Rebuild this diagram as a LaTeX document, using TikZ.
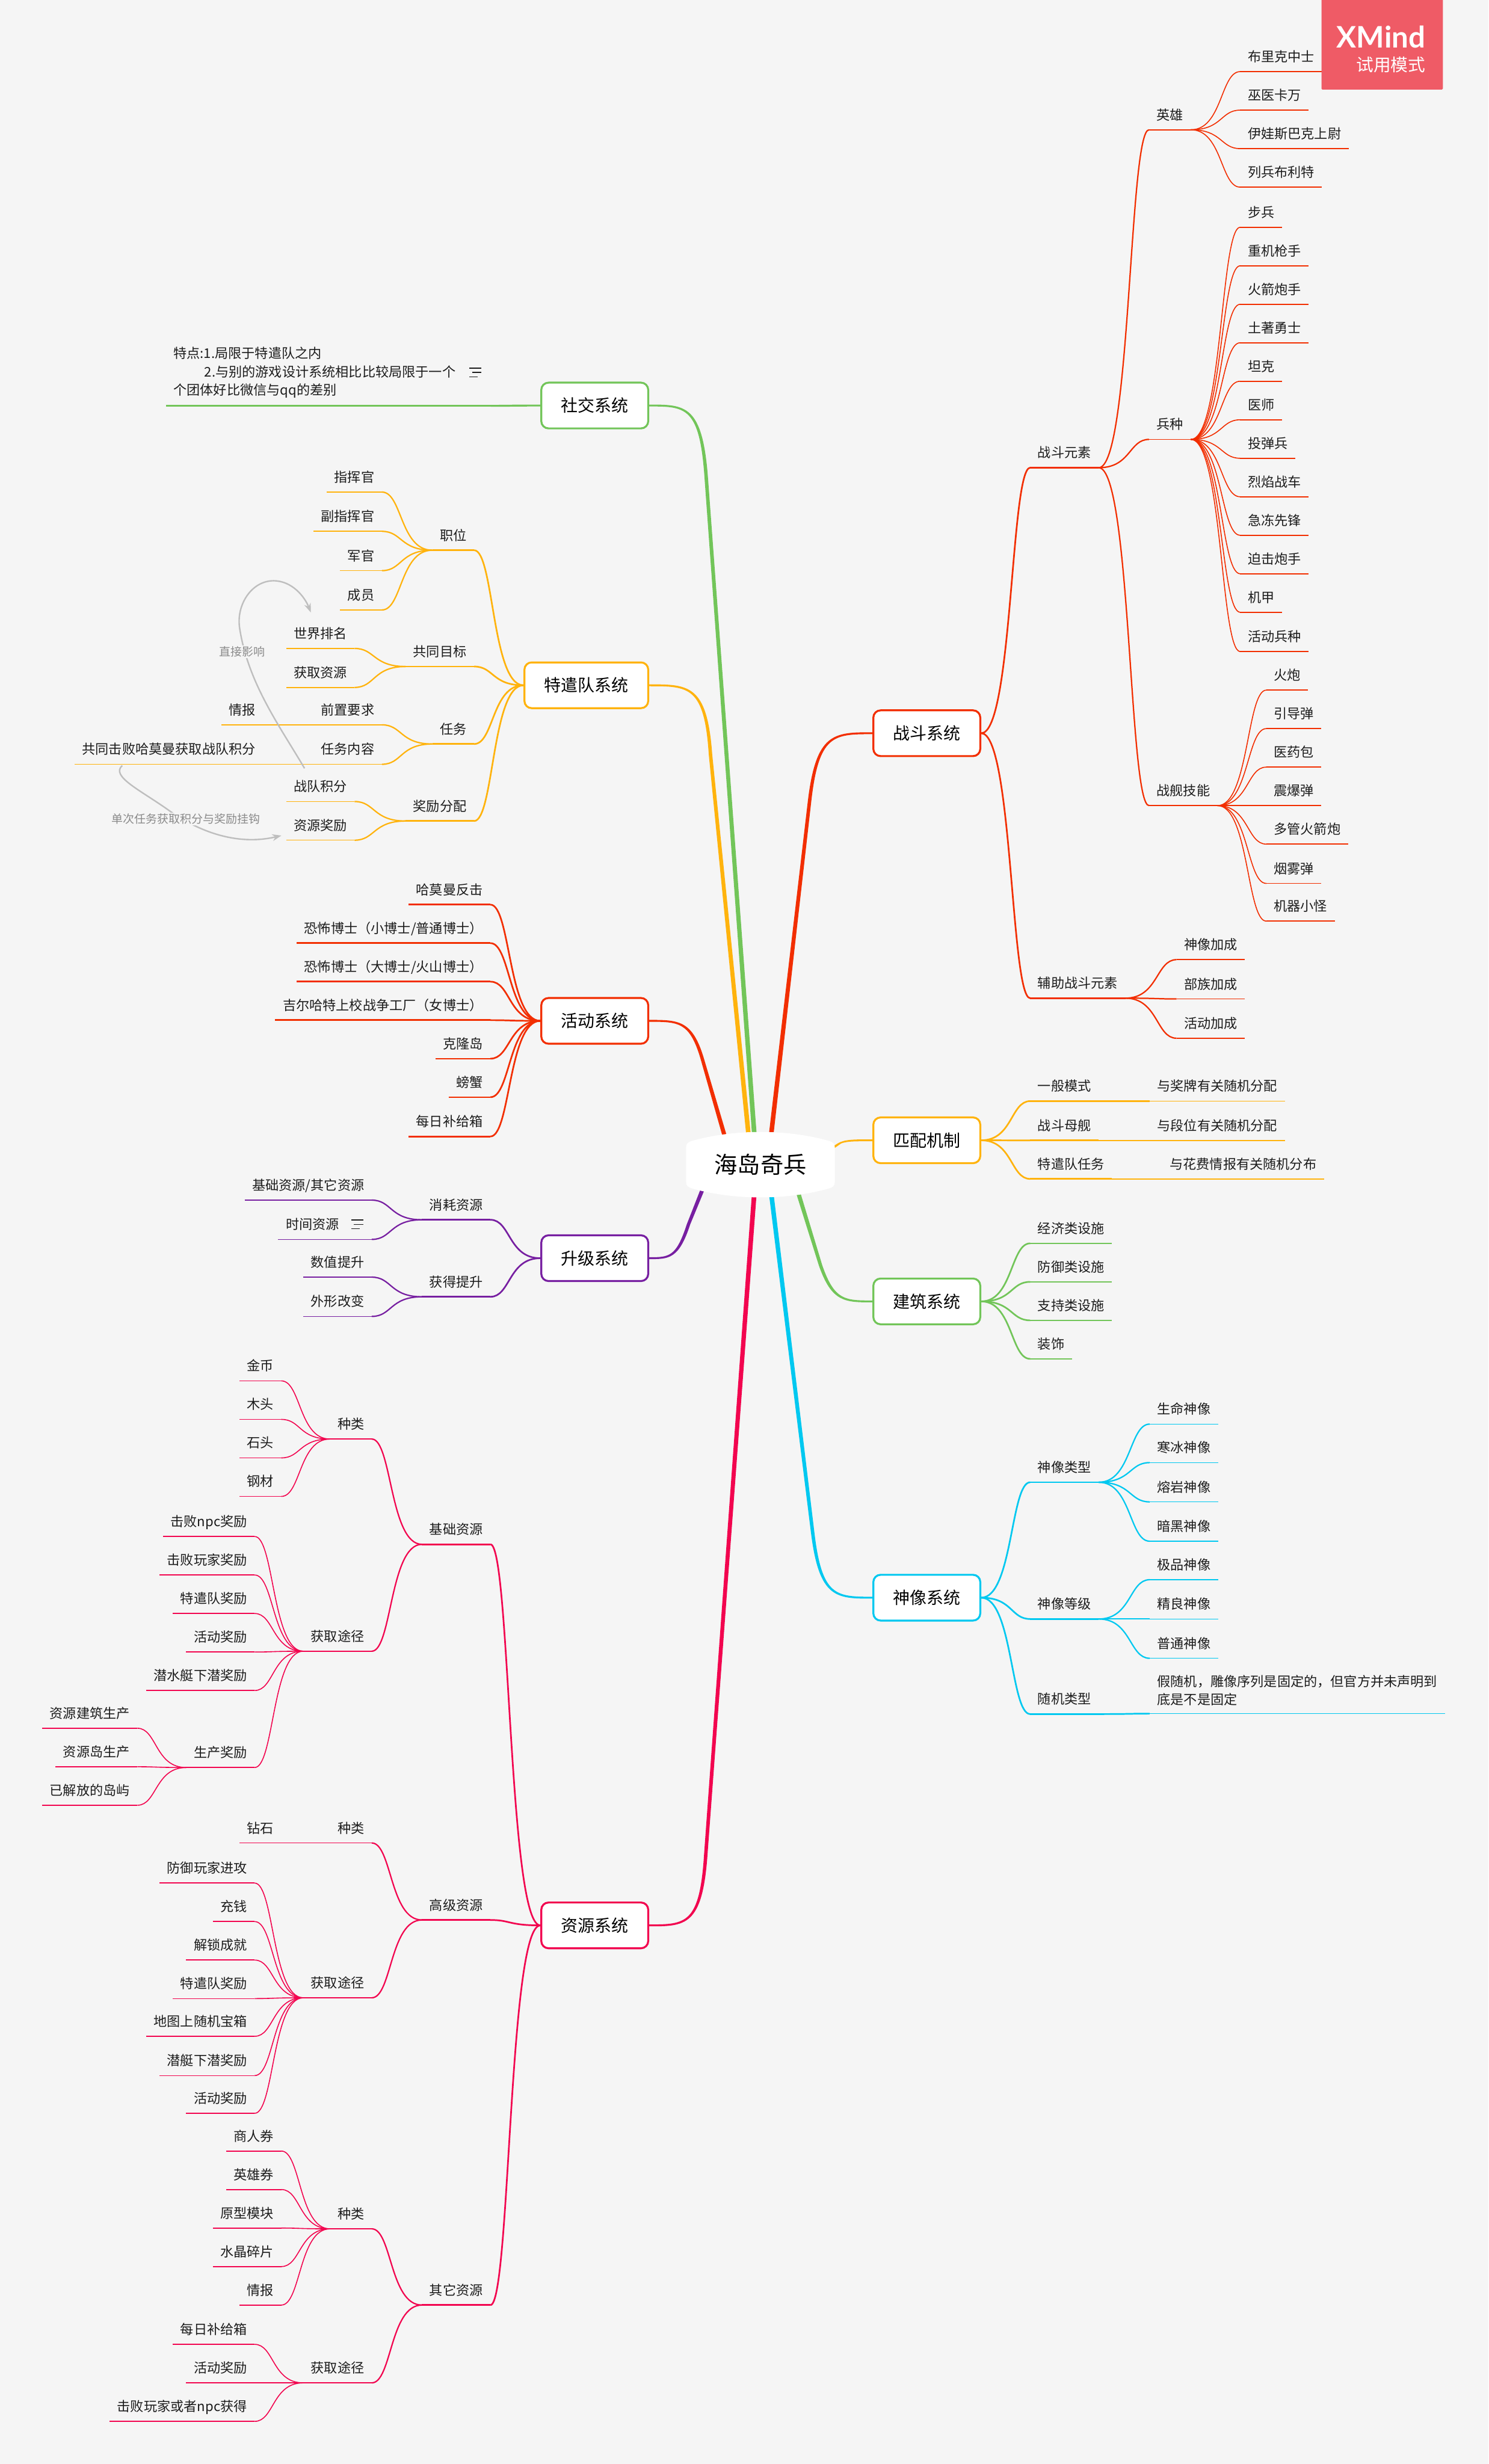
\documentclass[tikz,border=0pt]{standalone}
\usepackage{fontspec}
\setmainfont{Noto Sans CJK SC}
\newfontfamily\logofont{Lato}
\usetikzlibrary{calc,arrows.meta}
\definecolor{pagebg}{HTML}{F5F5F5}
\definecolor{bred}{HTML}{F22E00}
\definecolor{bora}{HTML}{FFB30D}
\definecolor{bgre}{HTML}{72C559}
\definecolor{bcya}{HTML}{00C8F0}
\definecolor{bmag}{HTML}{F2054F}
\definecolor{bpur}{HTML}{771FA1}
\definecolor{blogo}{HTML}{EF5B66}
\definecolor{relc}{HTML}{BEBEBE}
\definecolor{relt}{HTML}{8A8A8A}
\definecolor{inkc}{HTML}{1C1C1C}
\colorlet{cur}{bred}
\pgfdeclarelayer{page}\pgfdeclarelayer{conn}\pgfdeclarelayer{shape}
\pgfsetlayers{page,conn,shape,main}
\newcommand{\lfnt}{\fontsize{7.88}{10.8}\selectfont}
\newcommand{\bfnt}{\fontsize{9.96}{12}\selectfont}
\newcommand{\cfnt}{\fontsize{13.6}{16}\selectfont}
\newcommand{\rfnt}{\fontsize{6.74}{8}\selectfont}
\tikzset{
 leaf/.style={font=\lfnt,text=inkc,inner xsep=.15cm,inner ysep=0pt,minimum height=.61cm,text height=.244cm,text depth=.033cm},
 lc/.style={draw=cur,line width=.02cm},
 tc/.style={draw=cur,line width=.028cm},
 dt/.style={draw=cur,line width=.034cm},
 u-lc/.style={draw=cur,line width=.02cm},
 u-tc/.style={draw=cur,line width=.02cm},
 u-dt/.style={draw=cur,line width=.034cm},
 mainbox/.style={draw=cur,fill=white,line width=.04cm,rounded corners=.15cm,font=\bfnt,text=black,inner xsep=.41cm,inner ysep=0pt,minimum height=.95cm,text height=.308cm,text depth=.042cm},
 relline/.style={draw=relc,line width=.03cm},
 rellabel/.style={font=\rfnt,text=relt,fill=pagebg,inner xsep=.01cm,inner ysep=.02cm},
}
\newcommand{\cn}[3]{\begin{pgfonlayer}{conn}\draw[#1] let \p1=(#2),\p2=(#3),\n1={(\x2-\x1)*.64},\n2={(\x2-\x1)*.4} in (\p1) .. controls (\x1+\n1,\y1) and (\x2-\n2,\y2) .. (\p2);\end{pgfonlayer}}
\newcommand{\nodeR}[6][lc]{\node[leaf,anchor=west] (#2) at (#4,#5) {#6};\draw[u-#1] (#2.south west) -- (#2.south east);\cn{#1}{#3}{#2.south west}}
\newcommand{\nodeL}[6][lc]{\node[leaf,anchor=east] (#2) at (#4,#5) {#6};\draw[u-#1] (#2.south west) -- (#2.south east);\cn{#1}{#3}{#2.south east}}
\newcommand{\boxR}[4]{\colorlet{cur}{#1}\node[mainbox,anchor=west] (#2) at (555,#3) {#4};}
\newcommand{\boxL}[4]{\colorlet{cur}{#1}\node[mainbox,anchor=east] (#2) at (413,#3) {#4};}
\newcommand{\mainbr}[6]{\begin{pgfonlayer}{conn}
 \coordinate (mA) at (#2);\coordinate (mQ) at (#3);\coordinate (mR) at (#4);\coordinate (mC) at (#5);
 \coordinate (mc) at ($(mA)!0.7!(mQ)$);
 \pgfmathsetmacro{\wq}{#6*.9}\pgfmathsetmacro{\wr}{#6*1.1}\pgfmathsetmacro{\wc}{#6*1.5}
 \fill[#1] ($(mA)+(0,-.6)$) .. controls ($(mc)+(0,-.6)$) and ($(mQ)+(\wq,-.6)$) .. ($(mR)+(\wr,0)$) -- ($(mC)+(\wc,0)$) -- ($(mC)-(\wc,0)$) -- ($(mR)-(\wr,0)$) .. controls ($(mQ)-(\wq,-.6)$) and ($(mc)+(0,.6)$) .. ($(mA)+(0,.6)$) -- cycle;
 \end{pgfonlayer}}
\newcommand{\noteicon}[2]{\draw[inkc,line width=.02cm] (#1-3.8,#2-2.8) -- (#1+3.8,#2-2.8) (#1-2.2,#2) -- (#1+3.8,#2) (#1-3.8,#2+2.8) -- (#1+1.4,#2+2.8);}
\begin{document}
\begin{tikzpicture}[x=.03264cm,y=-.03264cm]
\begin{pgfonlayer}{page}\fill[pagebg] (0,0) rectangle (947,1567.7);\end{pgfonlayer}
\useasboundingbox (0,0) rectangle (947,1567.7);
% centre
\node[font=\cfnt,text=black,minimum width=3.09cm,minimum height=1.36cm,inner sep=0pt] (center) at (483.8,741) {海岛奇兵};
\begin{pgfonlayer}{shape}
\begin{scope}[shift={(center.center)}]
\fill[white] (-47.3,-11) .. controls (-47.3,-13.5) and (-46,-14.2) .. (-44,-15) .. controls (-30,-19) and (-15,-20.8) .. (0,-20.8) .. controls (15,-20.8) and (30,-19) .. (44,-15) .. controls (46,-14.2) and (47.3,-13.5) .. (47.3,-11) -- (47.3,11) .. controls (47.3,13.5) and (46,14.2) .. (44,15) .. controls (30,19) and (15,20.8) .. (0,20.8) .. controls (-15,20.8) and (-30,19) .. (-44,15) .. controls (-46,14.2) and (-47.3,13.5) .. (-47.3,11) -- cycle;
\end{scope}
\end{pgfonlayer}
% ---- 战斗系统
\boxR{bred}{zd}{466.5}{战斗系统}
\mainbr{bred}{zd.west}{520,466.5}{515,510}{$(center.center)+(4.6,0)$}{-1}
\nodeR[dt]{zdys}{zd.east}{655.4}{288}{战斗元素}
\nodeR[dt]{fzys}{zd.east}{655.4}{625.5}{辅助战斗元素}
\nodeR[tc]{yx}{zdys.south east}{731}{73}{英雄}
\nodeR[tc]{bz}{zdys.south east}{731}{270}{兵种}
\nodeR[tc]{jj}{zdys.south east}{731}{503}{战舰技能}
\nodeR{y1}{yx.south east}{789}{36}{布里克中士}
\nodeR{y2}{yx.south east}{789}{60.5}{巫医卡万}
\nodeR{y3}{yx.south east}{789}{85}{伊娃斯巴克上尉}
\nodeR{y4}{yx.south east}{789}{109.5}{列兵布利特}
\nodeR{b1}{bz.south east}{789}{135}{步兵}
\nodeR{b2}{bz.south east}{789}{159.5}{重机枪手}
\nodeR{b3}{bz.south east}{789}{184}{火箭炮手}
\nodeR{b4}{bz.south east}{789}{208.5}{土著勇士}
\nodeR{b5}{bz.south east}{789}{233}{坦克}
\nodeR{b6}{bz.south east}{789}{257.5}{医师}
\nodeR{b7}{bz.south east}{789}{282}{投弹兵}
\nodeR{b8}{bz.south east}{789}{306.5}{烈焰战车}
\nodeR{b9}{bz.south east}{789}{331}{急冻先锋}
\nodeR{b10}{bz.south east}{789}{355.5}{迫击炮手}
\nodeR{b11}{bz.south east}{789}{380}{机甲}
\nodeR{b12}{bz.south east}{789}{405}{活动兵种}
\nodeR{j1}{jj.south east}{805.6}{429.5}{火炮}
\nodeR{j2}{jj.south east}{805.6}{454}{引导弹}
\nodeR{j3}{jj.south east}{805.6}{478.5}{医药包}
\nodeR{j4}{jj.south east}{805.6}{503}{震爆弹}
\nodeR{j5}{jj.south east}{805.6}{527.5}{多管火箭炮}
\nodeR{j6}{jj.south east}{805.6}{552.5}{烟雾弹}
\nodeR{j7}{jj.south east}{805.6}{576.5}{机器小怪}
\nodeR[tc]{f1}{fzys.south east}{748.5}{601}{神像加成}
\nodeR[tc]{f2}{fzys.south east}{748.5}{626}{部族加成}
\nodeR[tc]{f3}{fzys.south east}{748.5}{651}{活动加成}
% ---- 匹配机制
\boxR{bora}{pp}{725.5}{匹配机制}
\mainbr{bora}{pp.west}{538,725.5}{534,727.5}{$(center.center)+(42,-8)$}{-1}
\nodeR[dt]{p1}{pp.east}{655.4}{691}{一般模式}
\nodeR[dt]{p2}{pp.east}{655.4}{716}{战斗母舰}
\nodeR[dt]{p3}{pp.east}{655.4}{740.5}{特遣队任务}
\nodeR[tc]{p1a}{p1.south east}{731.4}{691}{与奖牌有关随机分配}
\nodeR[tc]{p2a}{p2.south east}{731.4}{716}{与段位有关随机分配}
\nodeR[tc]{p3a}{p3.south east}{739.4}{740.5}{与花费情报有关随机分布}
% ---- 建筑系统
\boxR{bgre}{jz}{828}{建筑系统}
\mainbr{bgre}{jz.west}{530,828}{522,805}{$(center.center)+(18.5,0)$}{1}
\nodeR[dt]{jz1}{jz.east}{655.4}{781.5}{经济类设施}
\nodeR[dt]{jz2}{jz.east}{655.4}{806}{防御类设施}
\nodeR[dt]{jz3}{jz.east}{655.4}{830.5}{支持类设施}
\nodeR[dt]{jz4}{jz.east}{655.4}{855}{装饰}
% ---- 神像系统
\boxR{bcya}{sx}{1016.5}{神像系统}
\mainbr{bcya}{sx.west}{522,1016.5}{517,975}{$(center.center)+(4.6,0)$}{1}
\nodeR[dt]{sxl}{sx.east}{655.4}{933.5}{神像类型}
\nodeR[dt]{sxd}{sx.east}{655.4}{1020.5}{神像等级}
\nodeR[dt]{sxs}{sx.east}{655.4}{1081}{随机类型}
\nodeR[tc]{s1}{sxl.south east}{731.4}{896.5}{生命神像}
\nodeR[tc]{s2}{sxl.south east}{731.4}{921}{寒冰神像}
\nodeR[tc]{s3}{sxl.south east}{731.4}{946}{熔岩神像}
\nodeR[tc]{s4}{sxl.south east}{731.4}{971}{暗黑神像}
\nodeR[tc]{s5}{sxd.south east}{731.4}{995.5}{极品神像}
\nodeR[tc]{s6}{sxd.south east}{731.4}{1020.5}{精良神像}
\nodeR[tc]{s7}{sxd.south east}{731.4}{1045.5}{普通神像}
\node[leaf,anchor=west,minimum height=.95cm,text height=,text depth=,align=left] (s8) at (731.4,1075.5) {假随机，雕像序列是固定的，但官方并未声明到\\底是不是固定};
\draw[u-lc] (s8.south west) -- (s8.south east);
\cn{dt}{sxs.south east}{s8.south west}
% ---- 社交系统
\boxL{bgre}{sj}{258}{社交系统}
\mainbr{bgre}{sj.east}{446,258}{449.3,304}{$(center.center)+(-2.5,0)$}{1}
\node[leaf,anchor=west,minimum height=1.37cm,text height=,text depth=,align=left,text width=6.43cm] (tedian) at (105.6,237) {特点:1.局限于特遣队之内\\\hspace*{.64cm}2.与别的游戏设计系统相比比较局限于一个\\个团体好比微信与qq的差别};
\draw[draw=cur,line width=.04cm] (tedian.south west) -- (tedian.south east);
\cn{draw=cur,line width=.04cm}{sj.west}{tedian.south east}
\noteicon{302.5}{237}
% ---- 特遣队系统
\boxL{bora}{tq}{436}{特遣队系统}
\mainbr{bora}{tq.east}{449,436}{452,480}{$(center.center)+(-5.7,0)$}{1}
\nodeL[dt]{zw}{tq.west}{301.6}{340.5}{职位}
\nodeL[dt]{gt}{tq.west}{301.6}{414.5}{共同目标}
\nodeL[dt]{rw}{tq.west}{301.6}{463.8}{任务}
\nodeL[dt]{jl}{tq.west}{301.6}{512.8}{奖励分配}
\nodeL[tc]{z1}{zw.south west}{243}{303.5}{指挥官}
\nodeL[tc]{z2}{zw.south west}{243}{328.5}{副指挥官}
\nodeL[tc]{z3}{zw.south west}{243}{353.5}{军官}
\nodeL[tc]{z4}{zw.south west}{243}{378.5}{成员}
\nodeL[tc]{sjpm}{gt.south west}{225.6}{403}{世界排名}
\nodeL[tc]{hqzy}{gt.south west}{225.6}{427.8}{获取资源}
\nodeL[tc]{qzyq}{rw.south west}{243}{451.6}{前置要求}
\nodeL[tc]{rwnr}{rw.south west}{243}{476.7}{任务内容}
\nodeL{qb}{qzyq.south west}{167.4}{451.6}{情报}
\nodeL{gtjb}{rwnr.south west}{167.4}{476.7}{共同击败哈莫曼获取战队积分}
\nodeL[tc]{zdjf}{jl.south west}{225.6}{500.4}{战队积分}
\nodeL[tc]{zyjl}{jl.south west}{225.6}{525}{资源奖励}
% relations
\draw[relline,-{Stealth[length=.19cm,width=.14cm]}] ($(zdjf.north west)+(11.7,-2)$) .. controls (178,462) and (158,435) .. (152.5,400) .. controls (150,385) and (160,369.5) .. (174,369.5) .. controls (186,369.5) and (194,380) .. ($(sjpm.north west)+(15.7,-3.8)$);
\node[rellabel] (rl1) at (154,414.6) {直接影响};
\draw[relline,-{Stealth[length=.19cm,width=.14cm]}] ($(gtjb.south west)+(30.3,.8)$) .. controls (70,494) and (90,503) .. (108,516) .. controls (128,530) and (152,538) .. ($(zyjl.west)+(-3,6.6)$);
\node[rellabel] (rl2) at (118.3,521) {单次任务获取积分与奖励挂钩};
% ---- 活动系统
\boxL{bred}{hd}{649.5}{活动系统}
\mainbr{bred}{hd.east}{439.6,649.5}{446.7,673.4}{$(center.center)+(-17.5,0)$}{1}
\nodeL[dt]{h1}{hd.west}{312}{566}{哈莫曼反击}
\nodeL[dt]{h2}{hd.west}{312}{590.5}{恐怖博士（小博士/普通博士）}
\nodeL[dt]{h3}{hd.west}{312}{615}{恐怖博士（大博士/火山博士）}
\nodeL[dt]{h4}{hd.west}{312}{639.5}{吉尔哈特上校战争工厂（女博士）}
\nodeL[dt]{h5}{hd.west}{312}{664}{克隆岛}
\nodeL[dt]{h6}{hd.west}{312}{688.5}{螃蟹}
\nodeL[dt]{h7}{hd.west}{312}{713.5}{每日补给箱}
% ---- 升级系统
\boxL{bpur}{sg}{800.5}{升级系统}
\mainbr{bpur}{sg.east}{431,800.5}{438,779}{$(center.center)+(-30.5,0)$}{-1}
\nodeL[dt]{xh}{sg.west}{312}{766.5}{消耗资源}
\nodeL[dt]{hd2}{sg.west}{312}{815.5}{获得提升}
\nodeL[tc]{x1}{xh.south west}{236.5}{754}{基础资源/其它资源}
\nodeL[tc]{x2}{xh.south west}{236.5}{779}{时间资源\kern.52cm\null}
\noteicon{227.3}{779}
\nodeL[tc]{x3}{hd2.south west}{236.5}{803}{数值提升}
\nodeL[tc]{x4}{hd2.south west}{236.5}{828}{外形改变}
% ---- 资源系统
\boxL{bmag}{zy}{1225}{资源系统}
\mainbr{bmag}{zy.east}{446,1225}{449,1180}{$(center.center)+(-2.6,0)$}{-1}
\nodeL[dt]{jc}{zy.west}{312}{973}{基础资源}
\nodeL[dt]{gj}{zy.west}{312}{1212}{高级资源}
\nodeL[dt]{qt}{zy.west}{312}{1457}{其它资源}
\nodeL[tc]{jc1}{jc.south west}{236.5}{906}{种类}
\nodeL[tc]{jc2}{jc.south west}{236.5}{1041}{获取途径}
\nodeL{a1}{jc1.south west}{179}{869}{金币}
\nodeL{a2}{jc1.south west}{179}{893.5}{木头}
\nodeL{a3}{jc1.south west}{179}{918}{石头}
\nodeL{a4}{jc1.south west}{179}{942.5}{钢材}
\nodeL{c1}{jc2.south west}{162}{968}{击败npc奖励}
\nodeL{c2}{jc2.south west}{162}{992.5}{击败玩家奖励}
\nodeL{c3}{jc2.south west}{162}{1017}{特遣队奖励}
\nodeL{c4}{jc2.south west}{162}{1041.5}{活动奖励}
\nodeL{c5}{jc2.south west}{162}{1066}{潜水艇下潜奖励}
\nodeL{c6}{jc2.south west}{162}{1115}{生产奖励}
\nodeL{d1}{c6.south west}{87.4}{1090}{资源建筑生产}
\nodeL{d2}{c6.south west}{87.4}{1114.5}{资源岛生产}
\nodeL{d3}{c6.south west}{87.4}{1139}{已解放的岛屿}
\nodeL[tc]{gj1}{gj.south west}{236.5}{1163}{种类}
\nodeL[tc]{gj2}{gj.south west}{236.5}{1261.5}{获取途径}
\nodeL{e0}{gj1.south west}{179}{1163}{钻石}
\nodeL{e1}{gj2.south west}{162}{1188.5}{防御玩家进攻}
\nodeL{e2}{gj2.south west}{162}{1213}{充钱}
\nodeL{e3}{gj2.south west}{162}{1237.5}{解锁成就}
\nodeL{e4}{gj2.south west}{162}{1262}{特遣队奖励}
\nodeL{e5}{gj2.south west}{162}{1286}{地图上随机宝箱}
\nodeL{e6}{gj2.south west}{162}{1311}{潜艇下潜奖励}
\nodeL{e7}{gj2.south west}{162}{1335}{活动奖励}
\nodeL[tc]{qt1}{qt.south west}{236.5}{1408.5}{种类}
\nodeL[tc]{qt2}{qt.south west}{236.5}{1506.5}{获取途径}
\nodeL{g1}{qt1.south west}{179}{1359}{商人券}
\nodeL{g2}{qt1.south west}{179}{1383.5}{英雄券}
\nodeL{g3}{qt1.south west}{179}{1408}{原型模块}
\nodeL{g4}{qt1.south west}{179}{1432.5}{水晶碎片}
\nodeL{g5}{qt1.south west}{179}{1457}{情报}
\nodeL{k1}{qt2.south west}{162}{1482}{每日补给箱}
\nodeL{k2}{qt2.south west}{162}{1506.5}{活动奖励}
\nodeL{k3}{qt2.south west}{162}{1531}{击败玩家或者npc获得}
% ---- logo
\fill[blogo,rounded corners=.02cm] (840.7,-3) rectangle (917.9,57);
\node[anchor=east,text=white,font={\logofont\bfseries\fontsize{17.5}{20}\selectfont},inner sep=0pt] (xm) at (907,23.4) {XMind};
\node[anchor=east,text=white,font={\fontsize{10.2}{12}\selectfont},inner sep=0pt] (sy) at (907,41.2) {试用模式};
\end{tikzpicture}
\end{document}
